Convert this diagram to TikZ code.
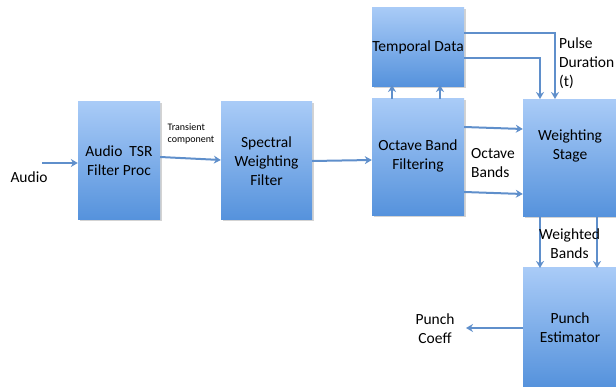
\documentclass[tikz,border=0pt]{standalone}
\usepackage{fontspec}
\setmainfont{Carlito}
\usetikzlibrary{arrows.meta,shadows}
\definecolor{boxtop}{HTML}{A9CBF7}
\definecolor{boxbot}{HTML}{5592DC}
\definecolor{arr}{HTML}{5F8FCB}
\tikzset{
  blk/.style={draw=none, top color=boxtop, bottom color=boxbot, align=center,
    font=\fontsize{15.5}{19}\selectfont, inner sep=0pt,
    drop shadow={shadow xshift=1.5pt, shadow yshift=-1.5pt, opacity=0.35}},
  con/.style={draw=arr, line width=2pt, -{Stealth[length=7pt,width=8pt]}},
  lbl/.style={font=\fontsize{15.5}{19}\selectfont, align=left, inner sep=0pt},
}
\begin{document}
\begin{tikzpicture}[x=1pt,y=-1pt]
\useasboundingbox (0,0) rectangle (616,387);
\node[blk, minimum width=82pt, minimum height=118pt] (tsr) at (119,161) {Audio\ \ TSR\\Filter Proc};
\node[blk, minimum width=91pt, minimum height=118pt] (spec) at (266.5,161) {Spectral\\Weighting\\Filter};
\node[blk, minimum width=92pt, minimum height=117pt] (oct) at (418,157.5) {Octave Band\\Filtering\\[-13pt]~};
\node[blk, minimum width=92pt, minimum height=79pt] (temp) at (418,47) {Temporal Data};
\node[blk, minimum width=94pt, minimum height=117pt] (ws) at (570,158.5) {Weighting\\Stage\\[9pt]~};
\node[blk, minimum width=94pt, minimum height=119pt] (pe) at (570,327.5) {Punch\\Estimator};

\node[lbl] (audio) at (29,177) {Audio};
\coordinate (ain) at (42,163);
\draw[con] (ain) -- (tsr.west |- ain);

\node[font=\fontsize{10}{12}\selectfont, align=left, inner sep=0pt] (tc) at (191,134) {Transient\\component};
\draw[con] (tsr.east |- 0,157) -- (spec.west |- 0,160);
\draw[con] (spec.east |- 0,161) -- (oct.west |- 0,160);

\draw[con] (392,99) -- (392,85);
\draw[con] (440,99) -- (440,85);

\draw[con] (temp.east |- 0,33) -- (555,33) -- (555,99);
\draw[con] (temp.east |- 0,58) -- (540,58) -- (540,99);
\node[lbl, anchor=north west] (pd) at (559,38) {Pulse\\Duration\\(t)};

\draw[con] (oct.east |- 0,127) -- (ws.west |- 0,129);
\draw[con] (oct.east |- 0,192) -- (ws.west |- 0,194);
\node[lbl, anchor=west] (ob) at (471,163) {Octave\\Bands};

\draw[con] (540,217) -- (540,268);
\draw[con] (597,217) -- (597,268);
\node[lbl, anchor=west, align=center] (wb) at (539,244) {Weighted\\Bands};

\draw[con] (pe.west |- 0,328) -- (466,328);
\node[lbl, align=center] (pc) at (435,329) {Punch\\Coeff};
\end{tikzpicture}
\end{document}
